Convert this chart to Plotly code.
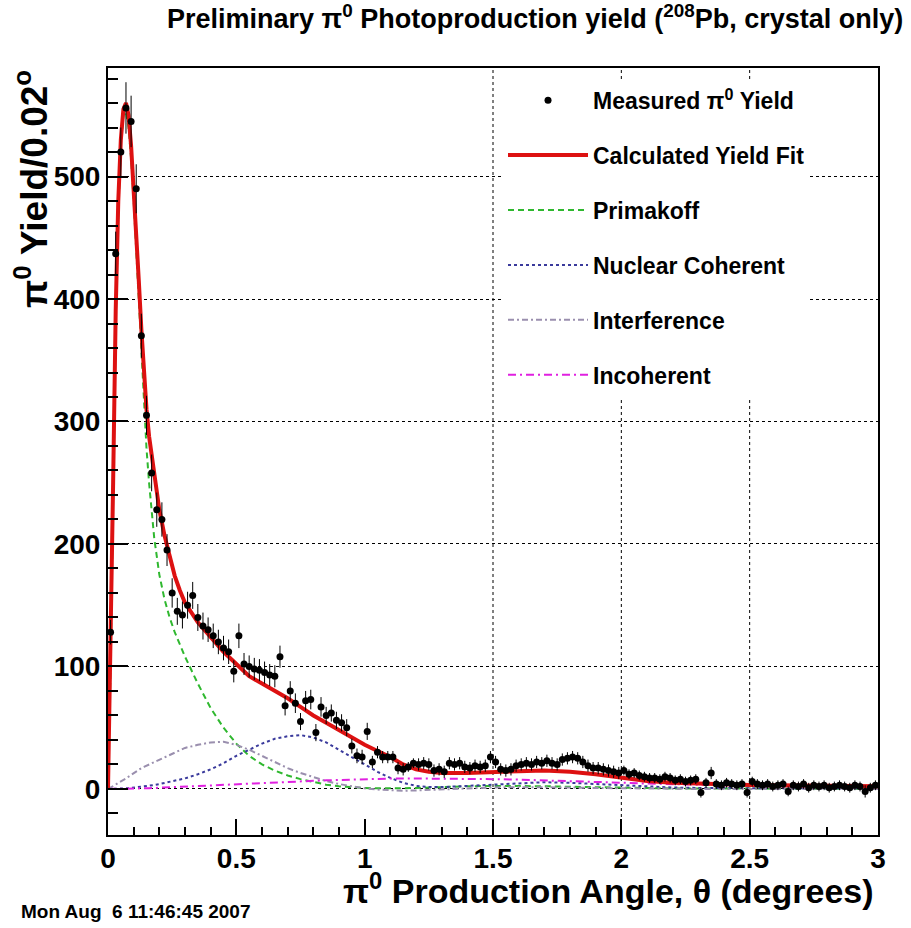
import plotly.graph_objects as go

# ---------------- data ----------------
# measured yield per 0.02 degree bin (bin centres 0.01 ... 2.99)
bin_width = 0.02
meas_y = [
    128, 437, 520, 556, 545, 490, 370, 305, 258, 228,
    220, 195, 160, 145, 142, 150, 158, 140, 133, 130,
    125, 120, 115, 112, 96, 125, 102, 100, 98, 97,
    95, 93, 92, 108, 68, 80, 70, 55, 72, 73,
    46, 67, 60, 62, 56, 54, 50, 35, 27, 26,
    47, 22, 30, 26, 26, 26, 17, 16, 18, 21,
    20, 21, 20, 15, 16, 14, 21, 20, 21, 18,
    17, 19, 18, 19, 26, 22, 16, 15, 16, 19,
    20, 21, 20, 22, 21, 23, 21, 20, 24, 25,
    26, 25, 22, 19, 17, 17, 16, 15, 14, 13,
    15, 12, 13, 11, 10, 9, 9, 8, 10, 9,
    7, 8, 6, 7, 8, -3, 5, 13, 4, 3,
    5, 4, 3, 4, -3, 6, 4, 3, 4, 2,
    3, 4, -2, 3, 2, 4, 1, 3, 2, 3,
    1, 2, 3, 2, 1, 3, 2, -2, 1, 3,
]
meas_err = [
    10, 18, 20, 21, 21, 20, 18, 16, 15, 14,
    14, 13, 12, 11, 11, 11, 11, 11, 11, 10,
    10, 10, 10, 10, 9, 10, 9, 9, 9, 9,
    9, 9, 9, 9, 8, 8, 8, 7, 8, 8,
    7, 8, 7, 7, 7, 7, 7, 6, 6, 6,
    7, 5, 5, 5, 5, 5, 5, 5, 4, 4,
    5, 5, 5, 5, 5, 5, 5, 5, 5, 5,
    5, 5, 5, 5, 5, 5, 5, 5, 5, 5,
    5, 5, 5, 5, 5, 5, 5, 5, 5, 5,
    5, 5, 5, 5, 5, 5, 5, 5, 5, 5,
    4, 4, 4, 4, 4, 4, 4, 4, 4, 4,
    4, 4, 4, 4, 4, 4, 4, 5, 4, 4,
    4, 4, 4, 4, 4, 4, 4, 4, 4, 4,
    4, 4, 4, 4, 4, 4, 4, 4, 4, 4,
    4, 4, 4, 4, 4, 4, 4, 5, 4, 4,
]
meas_x = [round(bin_width * (i + 0.5), 3) for i in range(len(meas_y))]

# model curves
curve_x = [
    0.00, 0.01, 0.02, 0.03, 0.04, 0.05, 0.06, 0.07, 0.08, 0.09,
    0.10, 0.11, 0.12, 0.13, 0.14, 0.15, 0.16, 0.18, 0.20, 0.22,
    0.24, 0.26, 0.28, 0.30, 0.35, 0.40, 0.45, 0.50, 0.55, 0.60,
    0.65, 0.70, 0.75, 0.80, 0.85, 0.90, 0.95, 1.00, 1.05, 1.10,
    1.15, 1.20, 1.25, 1.30, 1.40, 1.50, 1.60, 1.70, 1.80, 1.90,
    2.00, 2.10, 2.20, 2.30, 2.40, 2.50, 2.60, 2.70, 2.80, 2.90, 3.00,
]
fit_y = [
    0, 110, 250, 390, 480, 530, 555, 560, 550, 525,
    492, 455, 415, 375, 340, 310, 288, 255, 228, 207,
    190, 174, 162, 152, 136, 124, 112, 102, 92, 86,
    80, 74, 67, 60, 54, 48, 42, 36, 31, 26,
    20, 16, 14, 13, 13, 14, 14.5, 15, 14, 12,
    9, 6.5, 5, 4.2, 3.6, 3.2, 3.0, 2.8, 2.6, 2.4, 2.3,
]
primakoff_y = [
    0, 100, 240, 380, 470, 525, 550, 553, 540, 515,
    480, 440, 395, 352, 312, 278, 250, 205, 175, 155,
    140, 128, 118, 108, 86, 66, 50, 37, 27, 20,
    15, 11, 8, 5.5, 3.5, 2.2, 1.3, 0.8, 0.5, 0.4,
    0.5, 0.8, 1.2, 1.6, 2.2, 2.5, 2.5, 2.2, 1.8, 1.3,
    0.9, 0.6, 0.4, 0.3, 0.3, 0.3, 0.3, 0.2, 0.2, 0.2, 0.2,
]
coherent_y = [
    0, 0, 0.1, 0.1, 0.2, 0.3, 0.4, 0.5, 0.6, 0.8,
    1.0, 1.2, 1.4, 1.7, 2.0, 2.3, 2.6, 3.2, 4.0, 4.8,
    5.6, 6.5, 7.5, 8.6, 12, 16, 21, 27, 32, 37,
    41, 43, 44, 42, 38, 32, 26, 20, 14, 9,
    5, 2.5, 1.5, 1.5, 2.5, 4, 5, 5.5, 5, 4,
    3, 2, 1.2, 0.8, 0.6, 0.6, 0.5, 0.5, 0.5, 0.5, 0.5,
]
interference_y = [
    0, 1, 2, 3.5, 5, 6, 7, 8.5, 10, 11.5,
    13, 14, 15.5, 17, 18, 19, 20, 22, 24, 26,
    28, 30, 32, 33.5, 36, 38, 38.5, 36, 32, 27,
    22, 17, 13, 9.5, 6.5, 4, 2, 0.5, -0.5, -1.2,
    -1.5, -1.2, -0.8, -0.3, 0.6, 1.2, 1.5, 1.5, 1.2, 0.8,
    0.5, 0.2, 0, 0, 0, 0, 0, 0, 0, 0, 0,
]
incoherent_y = [
    0, 0, 0, 0, 0.1, 0.1, 0.1, 0.2, 0.2, 0.3,
    0.3, 0.4, 0.4, 0.5, 0.5, 0.6, 0.6, 0.8, 1.0, 1.2,
    1.4, 1.6, 1.8, 2.0, 2.4, 2.8, 3.2, 3.6, 4.1, 4.6,
    5.1, 5.6, 6.1, 6.6, 7.0, 7.4, 7.8, 8.1, 8.3, 8.5,
    8.6, 8.6, 8.6, 8.5, 8.3, 8.0, 7.6, 7.1, 6.5, 5.8,
    5.1, 4.4, 3.8, 3.3, 2.9, 2.5, 2.2, 2.0, 1.8, 1.6, 1.5,
]
# vertical grid lines visible in the reference
grid_x = [1.5, 2.0, 2.5]

FONT = "Liberation Sans"

fig = go.Figure()

fig.add_trace(go.Scatter(
    x=curve_x, y=primakoff_y, mode="lines", name="Primakoff",
    line=dict(color="#2fb82f", width=2, dash="6px,4px"),
    legendgroup="c", legendrank=3))
fig.add_trace(go.Scatter(
    x=curve_x, y=coherent_y, mode="lines", name="Nuclear Coherent",
    line=dict(color="#3a3a9c", width=2, dash="dot"),
    legendgroup="d", legendrank=4))
fig.add_trace(go.Scatter(
    x=curve_x, y=interference_y, mode="lines", name="Interference",
    line=dict(color="#9a8fae", width=2, dash="6px,3px,2px,3px"),
    legendgroup="e", legendrank=5))
fig.add_trace(go.Scatter(
    x=curve_x, y=incoherent_y, mode="lines", name="Incoherent",
    line=dict(color="#e020e0", width=2, dash="8px,4px,2px,4px"),
    legendgroup="f", legendrank=6))
fig.add_trace(go.Scatter(
    x=curve_x, y=fit_y, mode="lines", name="Calculated Yield Fit",
    line=dict(color="#dd1111", width=4),
    legendgroup="b", legendrank=2))
fig.add_trace(go.Scatter(
    x=meas_x, y=meas_y, mode="markers", name="Measured π<sup>0</sup> Yield",
    marker=dict(color="black", size=7, symbol="circle"),
    error_y=dict(type="data", array=meas_err, color="black", thickness=1, width=0),
    legendgroup="a", legendrank=1))

axis_common = dict(
    showline=True, linecolor="black", linewidth=2, mirror=True,
    ticks="inside", tickcolor="black", tickwidth=1.5,
    gridcolor="black", gridwidth=1, griddash="dot",
    zeroline=False,
    tickfont=dict(family=FONT, size=28, color="black", weight="bold"),
)

fig.update_xaxes(
    range=[0, 3], tickmode="linear", tick0=0, dtick=0.5, ticklen=16,
    showgrid=False, ticklabelstandoff=-3,
    minor=dict(ticks="inside", ticklen=8, dtick=0.1, tickcolor="black", showgrid=False),
    **axis_common)
fig.update_yaxes(
    range=[-37.6, 588.6], tickmode="linear", tick0=0, dtick=100, ticklen=20,
    showgrid=True,
    minor=dict(ticks="inside", ticklen=10, dtick=20, tickcolor="black", showgrid=False),
    **axis_common)

for gx in grid_x:
    fig.add_shape(type="line", xref="x", yref="paper", x0=gx, x1=gx, y0=0, y1=1,
                  line=dict(color="black", width=1, dash="dot"), layer="below")

fig.update_layout(
    width=911, height=928,
    margin=dict(l=108, r=33, t=68, b=93),
    plot_bgcolor="white", paper_bgcolor="white",
    showlegend=True,
    legend=dict(
        x=0.513, y=0.986, xanchor="left", yanchor="top",
        bgcolor="white", borderwidth=0,
        font=dict(family=FONT, size=23, color="black", weight="bold"),
        itemwidth=80, tracegroupgap=22,
    ),
    annotations=[
        dict(text="Preliminary π<sup>0</sup> Photoproduction yield (<sup>208</sup>Pb, crystal only)",
             xref="paper", yref="paper", x=1.035, y=1.066, xanchor="right", yanchor="middle",
             showarrow=False, font=dict(family=FONT, size=27, color="black", weight="bold")),
        dict(text="π<sup>0</sup> Production Angle, θ (degrees)",
             xref="paper", yref="paper", x=0.997, y=-0.07, xanchor="right", yanchor="middle",
             showarrow=False, font=dict(family=FONT, size=34, color="black", weight="bold")),
        dict(text="π<sup>0</sup> Yield/0.02<sup>o</sup>",
             xref="paper", yref="paper", x=-0.1, y=1.0, xanchor="center", yanchor="top",
             textangle=-90,
             showarrow=False, font=dict(family=FONT, size=37, color="black", weight="bold")),
        dict(text="Mon Aug  6 11:46:45 2007",
             xref="paper", yref="paper", x=-0.116, y=-0.1, xanchor="left", yanchor="middle",
             showarrow=False, font=dict(family=FONT, size=19, color="black", weight="bold")),
    ],
)

fig.write_html("out.html")
